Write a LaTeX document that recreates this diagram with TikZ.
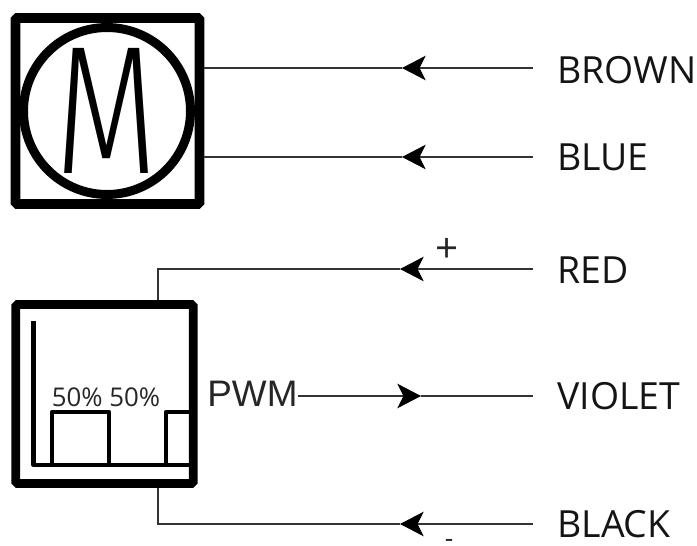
\documentclass[tikz,border=0pt]{standalone}
\usepackage{fontspec}
\setmainfont{Open Sans}
\newfontfamily\pwmfont{Liberation Sans}
\newfontfamily\motorfont{Fira Sans Light}
\usetikzlibrary{arrows.meta}
\definecolor{wirecol}{HTML}{333333}
\tikzset{
    wire/.style={draw=wirecol, line width=0.6pt},
    tipped/.style={wire, -{Stealth[length=13.5pt, width=14pt, inset=3.5pt, black]}},
    box/.style={draw=black, rectangle, rounded corners=1pt, inner sep=0pt},
    colour/.style={anchor=base west, inner sep=0pt, text=black!92, font=\fontsize{21.3}{25}\selectfont},
    duty/.style={line width=2.4pt, line join=round}
}

\begin{document}
\begin{tikzpicture}[x=0.02cm, y=-0.02cm]
        \useasboundingbox (0, 0) rectangle (697, 545);

        \node (motor) [box, line width=5.5pt, minimum width=3.68cm, minimum height=3.72cm] at (107.5, 111) {};
        \node (ring) [draw=black, circle, line width=5.1pt, inner sep=0pt, minimum size=3.34cm] at (107, 111)
            {\fontsize{92}{92}\motorfont\scalebox{0.82}[1.13]{M}};

        \node (pwmbox) [box, line width=4.9pt, minimum width=3.55cm, minimum height=3.58cm] at (104.5, 394) {};
        \node (pwm) [anchor=base west, inner sep=0pt, text=black!85, font=\fontsize{21}{25}\pwmfont] at (207, 406) {PWM};
        \node (duty) [anchor=center, inner sep=0pt, text=black!85, font=\fontsize{14.7}{17}\selectfont] at (106, 397) {50\% 50\%};

        \node (brown) [colour] at (557, 83) {BROWN};
        \node (blue) [colour] at (557, 170) {BLUE};
        \node (red) [colour] at (557, 283) {RED};
        \node (violet) [colour] at (557, 409) {VIOLET};
        \node (black) [colour] at (557, 537) {BLACK};

        \node (plus) [inner sep=0pt, text=black!85, font=\fontsize{23}{27}\selectfont] at (447, 250) {+};
        \node (minus) [inner sep=0pt, text=black!85, font=\fontsize{15}{18}\selectfont] at (449, 543) {-};

        \coordinate (brownend) at (533, 68);
        \coordinate (browntip) at (402, 68);
        \coordinate (brownbox) at (204, 68);
        \coordinate (blueend) at (533, 157);
        \coordinate (bluetip) at (402, 157);
        \coordinate (bluebox) at (204, 157);
        \coordinate (redend) at (533, 269);
        \coordinate (redtip) at (400, 269);
        \coordinate (redcorner) at (158, 269);
        \coordinate (violetend) at (533, 396);
        \coordinate (violettip) at (421, 396);
        \coordinate (blackend) at (533, 524);
        \coordinate (blacktip) at (400, 524);
        \coordinate (blackcorner) at (158, 524);

        \draw[tipped] (brownend) -- (browntip);
        \draw[wire] (browntip) -- (brownbox);
        \draw[tipped] (blueend) -- (bluetip);
        \draw[wire] (bluetip) -- (bluebox);
        \draw[tipped] (redend) -- (redtip);
        \draw[wire] (redtip) -- (redcorner) -- (redcorner |- pwmbox.north);
        \draw[tipped] (pwm.east |- violetend) -- (violettip);
        \draw[wire] (violettip) -- (violetend);
        \draw[tipped] (blackend) -- (blacktip);
        \draw[wire] (blacktip) -- (blackcorner) -- (blackcorner |- pwmbox.south);

        \draw[duty] (33.5, 321) -- (33.5, 465) -- (190, 465);
        \draw[duty] (52, 465) -- (52, 412) -- (109, 412) -- (109, 465);
        \draw[duty] (166, 465) -- (166, 412) -- (190, 412);
    \end{tikzpicture}
\end{document}
